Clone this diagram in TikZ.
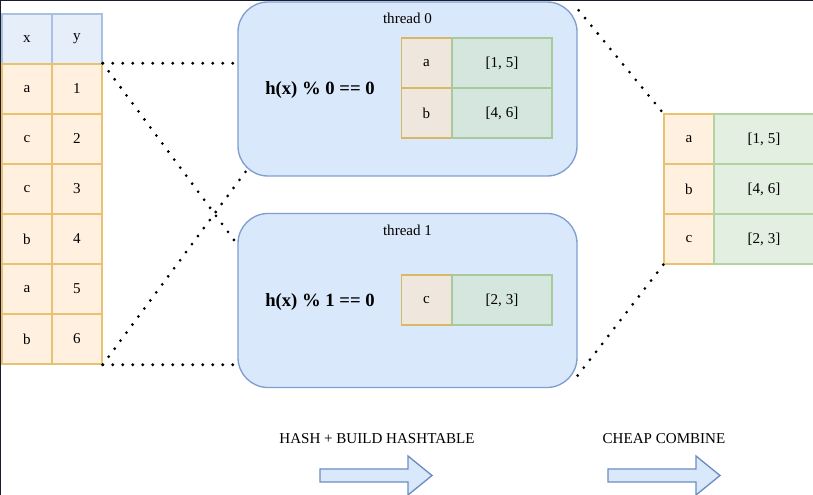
\documentclass[tikz,border=0pt]{standalone}
\usepackage{fontspec}
\setmainfont{Liberation Serif}
\usetikzlibrary{calc}
\definecolor{hdrfill}{HTML}{E6EEFA}
\definecolor{hdrline}{HTML}{A9C0E2}
\definecolor{peach}{HTML}{FFF0DF}
\definecolor{peachline}{HTML}{E9C271}
\definecolor{ikeyfill}{HTML}{EFE6DD}
\definecolor{ikeyline}{HTML}{D9B765}
\definecolor{ivalfill}{HTML}{D5E6DF}
\definecolor{ivalline}{HTML}{A9C99B}
\definecolor{rvalfill}{HTML}{E3EFE1}
\definecolor{rvalline}{HTML}{B3D4A0}
\definecolor{thfill}{HTML}{DAE8FC}
\definecolor{thline}{HTML}{7E9FCF}
\definecolor{arrline}{HTML}{6C8EBF}
\definecolor{frame}{HTML}{1B1B2B}
\begin{document}
\begin{tikzpicture}[x=0.75pt,y=-0.75pt,
  txt/.style={font=\fontsize{11.3}{13}\selectfont, inner sep=1pt},
  cell/.style={txt, draw, line width=1.1pt, minimum width=37.5pt, minimum height=37.5pt, inner sep=0pt, anchor=center},
  wide/.style={minimum width=75pt},
  hdr/.style={cell, fill=hdrfill, draw=hdrline},
  key/.style={cell, fill=peach, draw=peachline},
  ikey/.style={cell, fill=ikeyfill, draw=ikeyline},
  ival/.style={cell, wide, fill=ivalfill, draw=ivalline},
  rval/.style={cell, wide, fill=rvalfill, draw=rvalline},
  thread/.style={draw=thline, fill=thfill, line width=1pt, rounded corners=22.5pt,
     minimum width=254.25pt, minimum height=130.5pt, inner sep=0pt},
  cond/.style={font=\fontsize{14}{16}\selectfont\bfseries, inner sep=1pt},
  dotline/.style={line width=2.3pt, line cap=round, dash pattern=on 0pt off 7.5pt},
  bigarrow/.style={draw=arrline, fill=thfill, line width=1pt, line join=miter}
]
\useasboundingbox (0,0) rectangle (813,495);
\fill[white] (0,0) rectangle (813,495);
\draw[frame, line width=1.2pt] (0,0.5) -- (813,0.5);
\draw[frame, line width=1.2pt] (0.5,0) -- (0.5,495);

% left table
\node[hdr] (hx) at (27,39) {x};
\node[hdr] (hy) at (77,39) {y};
\node[key] (x1) at (27,89) {a};  \node[key] (y1) at (77,89) {1};
\node[key] (x2) at (27,139) {c}; \node[key] (y2) at (77,139) {2};
\node[key] (x3) at (27,189) {c}; \node[key] (y3) at (77,189) {3};
\node[key] (x4) at (27,239) {b}; \node[key] (y4) at (77,239) {4};
\node[key] (x5) at (27,289) {a}; \node[key] (y5) at (77,289) {5};
\node[key] (x6) at (27,339) {b}; \node[key] (y6) at (77,339) {6};

% thread 0
\node[thread] (t0) at (407.5,89) {};
\node[txt] (t0l) at ($(t0.north)+(0,17)$) {thread 0};
\node[cond] (h0) at (320,90) {h(x) \% 0 == 0};
\node[ikey] (k0a) at (426.5,63) {a};
\node[ival] (v0a) at (502,63) {[1, 5]};
\node[ikey] (k0b) at (426.5,113) {b};
\node[ival] (v0b) at (502,113) {[4, 6]};

% thread 1
\node[thread] (t1) at (407.5,300.5) {};
\node[txt] (t1l) at ($(t1.north)+(0,18)$) {thread 1};
\node[cond] (h1) at (320,302) {h(x) \% 1 == 0};
\node[ikey] (k1c) at (426.5,300) {c};
\node[ival] (v1c) at (502,300) {[2, 3]};

% right table
\node[key] (ra) at (689,139) {a}; \node[rval] (rva) at (764,139) {[1, 5]};
\node[key] (rb) at (689,189) {b}; \node[rval] (rvb) at (764,189) {[4, 6]};
\node[key] (rc) at (689,239) {c}; \node[rval] (rvc) at (764,239) {[2, 3]};

% connector end points
\coordinate (e2) at ($(t1.north west)+(-2,29)$);
\coordinate (e3) at ($(t0.south west)+(9,-6)$);
\coordinate (e5) at ($(t0.north east)+(1,9)$);
\coordinate (e6) at ($(t1.south east)+(-2,-10)$);

\draw[dotline] (y1.north east) -- (t0.west |- y1.north east);
\draw[dotline] (y1.north east) -- (e2);
\draw[dotline] (y6.south east) -- (e3);
\draw[dotline] (y6.south east) -- (t1.west |- y6.south east);
\draw[dotline] (e5) -- (ra.north west);
\draw[dotline] (rc.south west) -- (e6);

% bottom labels and arrows
\node[txt] (lbl1) at (377,439) {HASH + BUILD HASHTABLE};
\node[txt] (lbl2) at (664,439) {CHEAP COMBINE};
\draw[bigarrow] (320,469) -- (408,469) -- (408,456) -- (432,475.5) -- (408,495) -- (408,482) -- (320,482) -- cycle;
\draw[bigarrow] (608,469) -- (696,469) -- (696,456) -- (720,475.5) -- (696,495) -- (696,482) -- (608,482) -- cycle;
\end{tikzpicture}
\end{document}
